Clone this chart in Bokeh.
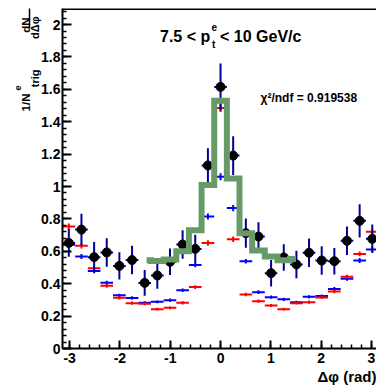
import numpy as np
from bokeh.plotting import figure
from bokeh.models import (Label, Span, SingleIntervalTicker, CustomJSTickFormatter,
                          Range1d, Title, LinearAxis, FixedTicker)
from bokeh.embed import file_html
from bokeh.resources import INLINE

# ---------------- data ----------------
dphi = [-3.016, -2.765, -2.513, -2.262, -2.011, -1.759, -1.508, -1.257, -1.005,
        -0.754, -0.503, -0.251, 0.0, 0.251, 0.503, 0.754, 1.005, 1.257, 1.508,
        1.759, 2.011, 2.262, 2.513, 2.765, 3.016]
bin_width = 0.2513

data_y = [0.652, 0.734, 0.564, 0.593, 0.510, 0.546, 0.405, 0.451, 0.535, 0.642,
          0.615, 1.130, 1.615, 1.191, 0.712, 0.691, 0.465, 0.562, 0.519, 0.591,
          0.543, 0.539, 0.665, 0.788, 0.677]
data_err = [0.085, 0.098, 0.093, 0.088, 0.084, 0.088, 0.079, 0.082, 0.082, 0.088,
            0.088, 0.107, 0.145, 0.120, 0.090, 0.088, 0.082, 0.082, 0.085, 0.088,
            0.088, 0.082, 0.088, 0.103, 0.088]

blue_y = [0.640, 0.568, 0.479, 0.406, 0.328, 0.312, 0.283, 0.288, 0.298, 0.360,
          0.515, 0.815, 1.060, 0.867, 0.539, 0.348, 0.317, 0.304, 0.286, 0.319,
          0.324, 0.368, 0.430, 0.543, 0.611]
blue_err = [0.018, 0.016, 0.014, 0.012, 0.010, 0.010, 0.009, 0.009, 0.010, 0.011,
            0.014, 0.018, 0.022, 0.019, 0.014, 0.011, 0.010, 0.010, 0.009, 0.010,
            0.010, 0.011, 0.012, 0.015, 0.016]

red_y = [0.753, 0.634, 0.496, 0.387, 0.313, 0.280, 0.276, 0.243, 0.251, 0.282,
         0.379, 0.651, 1.485, 0.674, 0.333, 0.292, 0.265, 0.243, 0.280, 0.286,
         0.315, 0.352, 0.443, 0.584, 0.720]
red_err = [0.018, 0.016, 0.014, 0.012, 0.010, 0.010, 0.009, 0.009, 0.009, 0.010,
           0.012, 0.017, 0.025, 0.017, 0.011, 0.010, 0.009, 0.009, 0.009, 0.010,
           0.010, 0.011, 0.013, 0.015, 0.018]

# green fit histogram (bins -1.508 ... 1.508) and its drawn range
fit_x = [-1.508, -1.257, -1.005, -0.754, -0.503, -0.251, 0.0, 0.251, 0.503,
         0.754, 1.005, 1.257, 1.508]
fit_y = [0.545, 0.540, 0.550, 0.600, 0.730, 1.010, 1.530, 1.050, 0.712, 0.605,
         0.568, 0.545, 0.552]
fit_range = [-1.47, 1.50]

title_main = "7.5 < p"
title_sup = "e"
title_sub = "t"
title_rest = "< 10 GeV/c"
chi2_text = "χ²/ndf = 0.919538"
xlabel = "Δφ (rad)"
ylab_num = "dN"
ylab_den = "dΔφ"
ylab_norm = "1/N"
ylab_sup = "e"
ylab_sub = "trig"

# ---------------- figure ----------------
X0, X1 = -np.pi, 3.10
Y0, Y1 = 0.0, 2.099
W, H = 376, 392
BL, BR, BT, BB = 62, 0, 8, 44

p = figure(width=W, height=H, x_range=Range1d(X0, X1), y_range=Range1d(Y0, Y1),
           output_backend="svg", toolbar_location=None,
           min_border_left=BL, min_border_right=BR, min_border_top=BT,
           min_border_bottom=BB)
p.outline_line_color = None
p.xgrid.visible = False
p.ygrid.visible = False
p.background_fill_color = "white"
p.border_fill_color = "white"

FONT = "Liberation Sans"

for ax in (p.xaxis[0], p.yaxis[0]):
    ax.axis_line_width = 2
    ax.axis_line_color = "black"
    ax.major_tick_line_width = 2
    ax.minor_tick_line_width = 1.5
    ax.major_tick_out = 0
    ax.minor_tick_out = 0
    ax.minor_tick_in = 4
    ax.major_label_text_font = FONT
    ax.major_label_text_font_style = "bold"
    ax.major_label_text_font_size = "14px"
    ax.major_label_text_color = "black"

p.xaxis.ticker = SingleIntervalTicker(interval=1, num_minor_ticks=5)
p.yaxis.ticker = SingleIntervalTicker(interval=0.2, num_minor_ticks=5)
p.xaxis.major_tick_in = 8
p.yaxis.major_tick_in = 9
p.xaxis.major_label_standoff = 4
p.yaxis.major_label_standoff = 2
p.xaxis.formatter = CustomJSTickFormatter(code="return tick.toFixed(0);")
p.yaxis.formatter = CustomJSTickFormatter(
    code="return (Math.round(tick*10)/10).toString();")

# top frame line
p.add_layout(Span(location=Y1, dimension="width", line_color="black", line_width=3))

# ---------------- marks ----------------
x = np.array(dphi)
hw = bin_width / 2


def errbars(yv, ev, color, width):
    yv = np.array(yv)
    ev = np.array(ev)
    p.segment(x0=x - hw, y0=yv, x1=x + hw, y1=yv, line_color=color, line_width=width)
    p.segment(x0=x, y0=yv - ev, x1=x, y1=yv + ev, line_color=color, line_width=width)


errbars(blue_y, blue_err, "#0000ff", 2)
errbars(red_y, red_err, "#ff0000", 2)
errbars(data_y, data_err, "#000099", 2)
p.scatter(x, data_y, size=9, marker="circle", fill_color="black", line_color="black")

# green step line built from bin edges
gx, gy = [], []
for c, v in zip(fit_x, fit_y):
    lo = max(c - hw, fit_range[0])
    hi = min(c + hw, fit_range[1])
    gx += [lo, hi]
    gy += [v, v]
p.line(gx, gy, line_color="#689a68", line_width=6, line_join="miter")

# ---------------- texts inside the frame ----------------
FB = H - BB  # frame bottom in canvas pixels


def lab(px, py, text, size, align="left", base="alphabetic"):
    p.add_layout(Label(x=px - BL, y=FB - py, x_units="screen", y_units="screen",
                       text=text, text_font=FONT, text_font_style="bold",
                       text_font_size=size, text_align=align, text_baseline=base,
                       text_color="black"))


lab(159.5, 36, title_main, "16px")
lab(211.0, 26.5, title_sup, "10px")
lab(211.5, 44, title_sub, "10px")
lab(219.5, 36, title_rest, "16px")
lab(260, 97, chi2_text, "12px", base="middle")

# ---------------- texts in the margins (side panels) ----------------
NB = "\u00a0"


def side_title(text, size, offset, where="left", align="right", standoff=0):
    t = Title(text=text, align=align, offset=offset, standoff=standoff,
              text_font=FONT, text_font_style="bold", text_font_size=size,
              text_color="black")
    p.add_layout(t, where)


# x-axis label, right aligned under the axis
side_title(xlabel, "15px", 0, where="below")

# y-axis label, built outward from the axis (negative standoffs pack columns tightly)
side_title(ylab_sub + NB * 10 + ylab_den, "11px", 8, standoff=-5)
bar = LinearAxis(bounds=((FB - 27.5) * Y1 / (FB - BT), Y1),
                 ticker=FixedTicker(ticks=[]), axis_line_width=1.5,
                 axis_line_color="black", major_tick_in=0, major_tick_out=0,
                 minor_tick_in=0, minor_tick_out=0, major_label_standoff=0,
                 major_label_text_font_size="1px")
p.add_layout(bar, "left")                                      # fraction bar
side_title(ylab_norm + NB * 19 + ylab_num, "11.5px", 9, standoff=-5)
side_title(ylab_sup, "9px", 77)

open("out.html", "w").write(file_html(p, INLINE))
